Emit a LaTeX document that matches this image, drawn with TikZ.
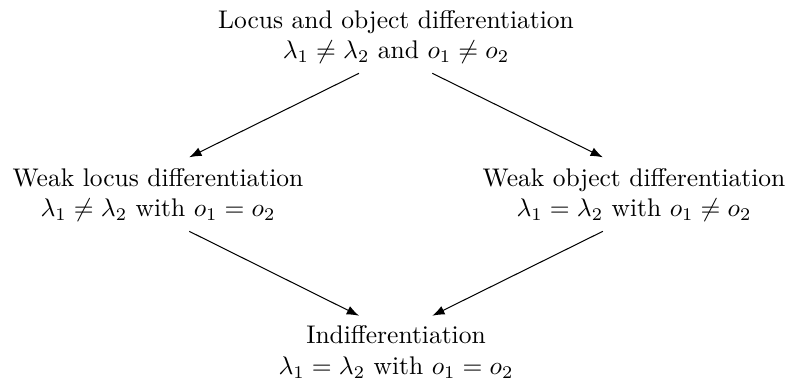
\documentclass[tikz,border=0pt]{standalone}
\usepackage{amsmath, amssymb}
\usetikzlibrary{arrows.meta}

\begin{document}
\begin{tikzpicture}[every node/.style={align=center}, arr/.style={-Latex}]
  \useasboundingbox (0,0) rectangle (10.87,-5.31);
  % Nodes
  \node (lo) at (5.456,-0.51) {Locus and object differentiation\\ $\lambda_1\neq\lambda_2$ and $o_1\neq o_2$};
  \node (wl) at (2.177,-2.687) {Weak locus differentiation\\ $\lambda_1\neq\lambda_2$ with $o_1=o_2$};
  \node (wo) at (8.735,-2.687) {Weak object differentiation\\ $\lambda_1=\lambda_2$ with $o_1\neq o_2$};
  \node (ind) at (5.456,-4.85) {Indifferentiation\\ $\lambda_1=\lambda_2$ with $o_1=o_2$};
  % Arrows
  \draw[arr] ([shift={(-0.51,-0.50)}]lo.center) -- ([shift={(0.43,0.52)}]wl.center);
  \draw[arr] ([shift={(0.50,-0.50)}]lo.center) -- ([shift={(-0.43,0.52)}]wo.center);
  \draw[arr] ([shift={(0.43,-0.50)}]wl.center) -- ([shift={(-0.51,0.50)}]ind.center);
  \draw[arr] ([shift={(-0.43,-0.50)}]wo.center) -- ([shift={(0.50,0.50)}]ind.center);
\end{tikzpicture}
\end{document}
